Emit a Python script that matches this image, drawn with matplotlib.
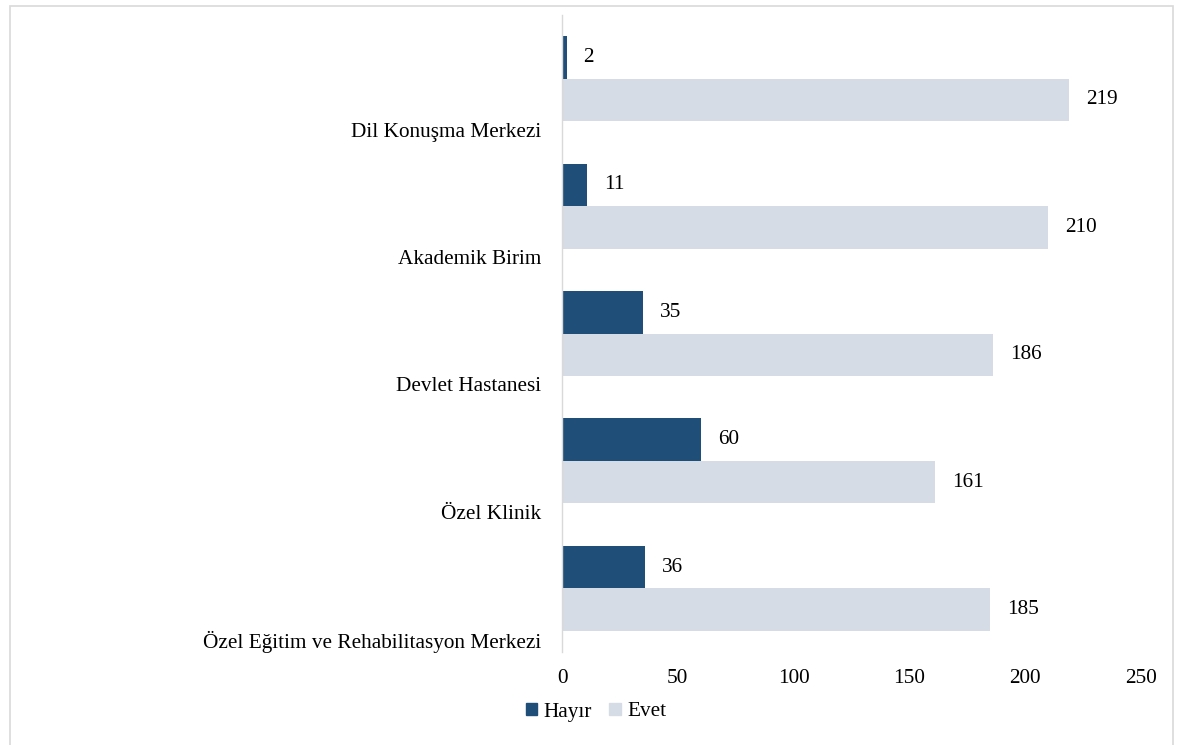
import matplotlib

matplotlib.use("Agg")
import matplotlib.pyplot as plt
from matplotlib.patches import Rectangle, Patch

plt.rcParams["font.family"] = ["Liberation Serif", "DejaVu Serif"]

# Data (top to bottom as in the chart)
categories = [
    "Dil Konuşma Merkezi",
    "Akademik Birim",
    "Devlet Hastanesi",
    "Özel Klinik",
    "Özel Eğitim ve Rehabilitasyon Merkezi",
]
hayir = [2, 11, 35, 60, 36]
evet = [219, 210, 186, 161, 185]
series_names = ["Hayır", "Evet"]
x_ticks = [0, 50, 100, 150, 200, 250]

color_hayir = "#1F4E79"
color_evet = "#D6DCE5"
font_size = 15.3

fig = plt.figure(figsize=(11.77, 7.45), dpi=100)
ax = fig.add_axes([562 / 1177, 1 - 652 / 745, (1141 - 562) / 1177, (652 - 15) / 745])

n = len(categories)
pos = [n - 1 - i for i in range(n)]
h = 1 / 3

ax.barh([p + h / 2 for p in pos], hayir, height=h, color=color_hayir, label=series_names[0])
ax.barh([p - h / 2 for p in pos], evet, height=h, color=color_evet, label=series_names[1])

# Data labels
offset = 7.3
for p, v in zip(pos, hayir):
    ax.text(v + offset, p + h / 2, str(v), va="center", ha="left", fontsize=font_size)
for p, v in zip(pos, evet):
    ax.text(v + offset, p - h / 2, str(v), va="center", ha="left", fontsize=font_size)

ax.set_xlim(0, 250)
ax.set_ylim(-0.5, n - 0.5)
ax.set_xticks(x_ticks)
ax.set_xticklabels([str(t) for t in x_ticks], fontsize=font_size)
ax.set_yticks([p - 0.40 for p in pos])
ax.set_yticklabels(categories, fontsize=font_size)
ax.tick_params(axis="both", length=0)
ax.tick_params(axis="y", pad=15)
ax.tick_params(axis="x", pad=12.5)

for side in ["top", "right", "bottom"]:
    ax.spines[side].set_visible(False)
ax.spines["left"].set_color("#D9D9D9")
ax.spines["left"].set_linewidth(1.0)

# Legend
handles = [Patch(color=color_hayir), Patch(color=color_evet)]
fig.legend(
    handles,
    series_names,
    loc="center",
    bbox_to_anchor=(596 / 1177, 1 - 712 / 745),
    ncol=2,
    frameon=False,
    fontsize=font_size,
    handlelength=0.55,
    handleheight=0.55,
    handletextpad=0.3,
    columnspacing=0.8,
)

# Chart area border
fig.patches.append(
    Rectangle(
        (10 / 1177, -0.05),
        (1173 - 10) / 1177,
        1.05 - 6 / 745,
        transform=fig.transFigure,
        fill=False,
        edgecolor="#D9D9D9",
        linewidth=1.2,
    )
)

fig.savefig("out.png", dpi=100)
